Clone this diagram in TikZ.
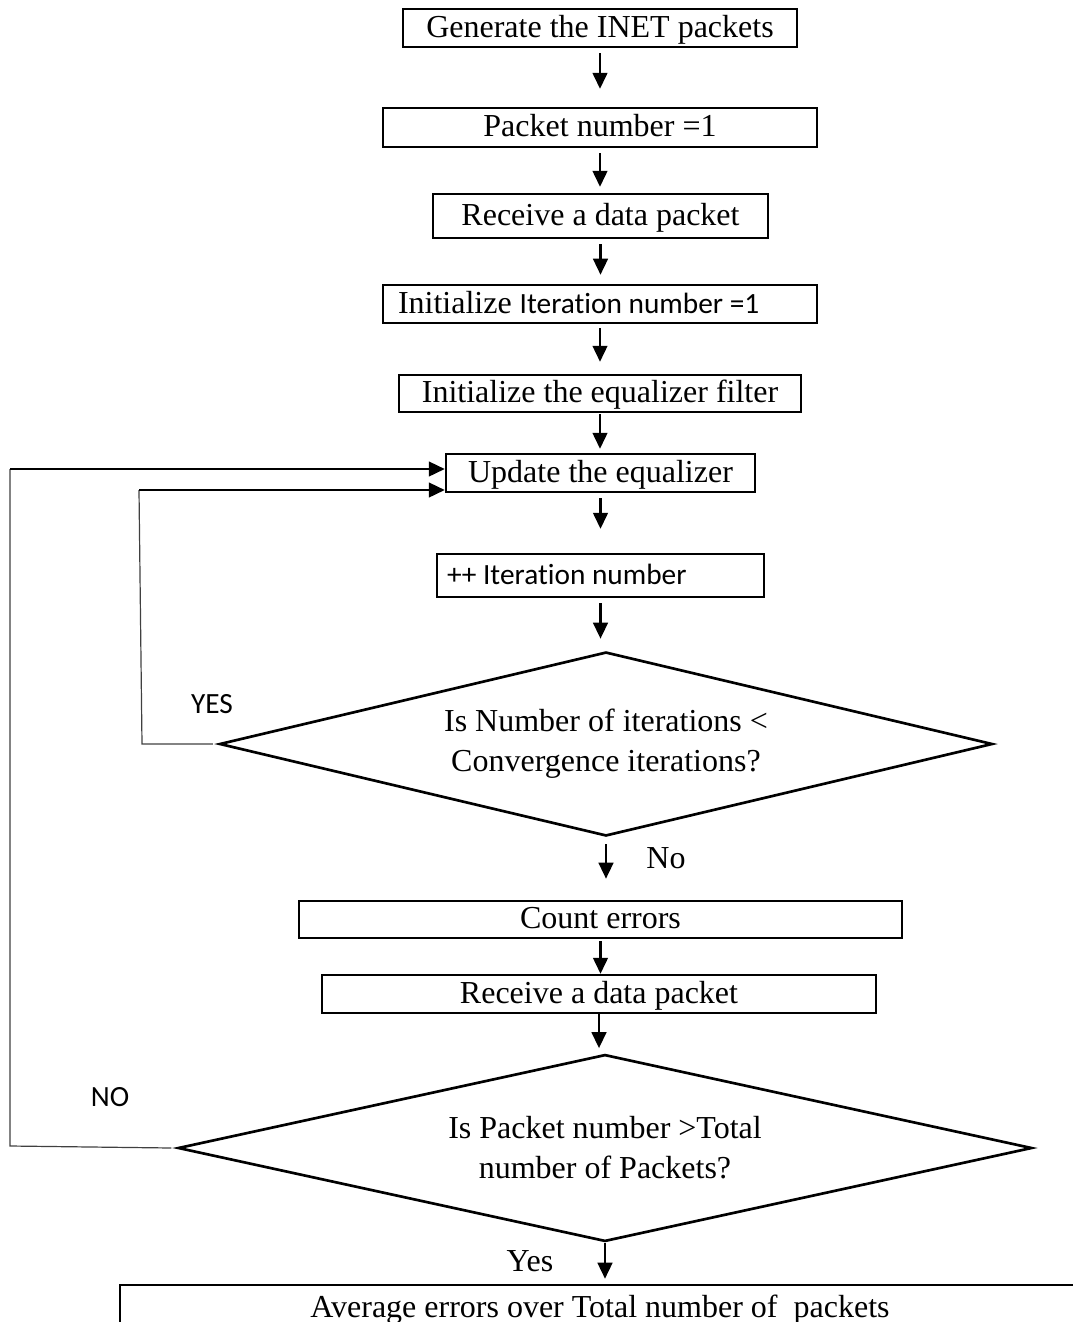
\documentclass[tikz,border=0pt]{standalone}
\usepackage{fontspec}
\setmainfont{Liberation Serif}
\newfontfamily\calibri[Ligatures=NoCommon]{Carlito}
\usetikzlibrary{shapes.geometric,arrows.meta}
\tikzset{
	box/.style={draw, line width=0.9pt, inner sep=0pt, text height=9pt, text depth=2pt, font=\fontsize{12}{15}\selectfont},
	decision/.style={draw, diamond, line width=1pt, inner sep=0pt, align=center, font=\fontsize{12}{15}\selectfont},
	flow/.style={line width=0.9pt, -{Triangle[length=6pt,width=5.5pt]}},
	loopline/.style={line width=0.45pt, black!75},
	sanslabel/.style={font=\calibri\fontsize{11}{13}\selectfont},
	seriflabel/.style={font=\fontsize{12}{15}\selectfont}
}
\begin{document}
\begin{tikzpicture}[x=0.375pt,y=-0.375pt]
	\useasboundingbox (0,0) rectangle (1072,1322);
	% main column
	\node[box, minimum width=147.75pt, minimum height=14.25pt] (gen) at (600,28) {Generate the INET packets};
	\node[box, minimum width=162.75pt, minimum height=14.6pt] (pktone) at (600,127.5) {Packet number =1};
	\node[box, minimum width=125.6pt, minimum height=16.5pt] (recv) at (600.5,216) {Receive a data packet};
	\node[box, minimum height=14.25pt, inner xsep=5.6pt, text width=151.5pt, align=flush left] (inititer) at (600,304) {Initialize {\calibri\fontsize{11}{13}\selectfont Iteration number =1}};
	\node[box, minimum width=150.75pt, minimum height=13.9pt] (initeq) at (600,393.5) {Initialize the equalizer filter};
	\node[box, minimum width=115.9pt, minimum height=14.25pt] (update) at (600.5,473) {Update the equalizer};
	\node[box, minimum height=16.1pt, inner xsep=3.75pt, text width=115.1pt, align=flush left] (inciter) at (600.5,575.5) {\calibri\fontsize{11}{13}\selectfont ++ Iteration number};
	\node[decision, aspect=4.2, minimum width=289.9pt, minimum height=69pt] (convq) at (606,744) {Is Number of iterations <\\Convergence iterations?};
	\node[box, minimum width=226.1pt, minimum height=13.9pt] (count) at (600.5,919.5) {Count errors};
	\node[box, minimum width=207.75pt, minimum height=14.25pt] (recv2) at (599,994) {Receive a data packet};
	\node[decision, aspect=4.57, minimum width=320.25pt, minimum height=70.1pt] (pktq) at (605,1148) {Is Packet number >Total\\number of Packets?};
	\node[box, minimum width=360pt, minimum height=17.25pt] (avg) at (600,1308) {Average errors over Total number of\ \ packets};

	% downward arrows
	\foreach \a/\b/\s/\e in {gen/pktone/1.9pt/6.75pt, pktone/recv/1.9pt/2.25pt, recv/inititer/1.9pt/3.4pt,
			inititer/initeq/1.5pt/4.5pt, initeq/update/0.4pt/1.5pt, update/inciter/1.9pt/9pt,
			inciter/convq/1.9pt/4.5pt, convq/count/2.6pt/7.9pt, count/recv2/0.75pt/0pt,
			recv2/pktq/0pt/1.9pt, pktq/avg/0pt/1.9pt}{
		\draw[flow, shorten <=\s, shorten >=\e] (\a.south) -- (\a.south |- \b.north);
	}

	% loops back to the equalizer update
	\coordinate (yesbot) at (142,744);
	\coordinate (yestop) at (139,490);
	\draw[loopline] ([xshift=-2pt]convq.west) -- (yesbot) -- (yestop);
	\draw[flow] (yestop) -- (update.west |- yestop);
	\coordinate (nobot) at (10,1146);
	\coordinate (notop) at (10,469);
	\draw[loopline] ([xshift=-2pt]pktq.west) -- (nobot) -- (notop);
	\draw[flow] (notop) -- (update.west |- notop);

	% labels
	\node[sanslabel] (yeslbl) at (212,704) {YES};
	\node[sanslabel] (nolbl) at (110,1097) {NO};
	\node[seriflabel] (nolbl2) at (666,858) {No};
	\node[seriflabel] (yeslbl2) at (530,1261) {Yes};
\end{tikzpicture}
\end{document}
